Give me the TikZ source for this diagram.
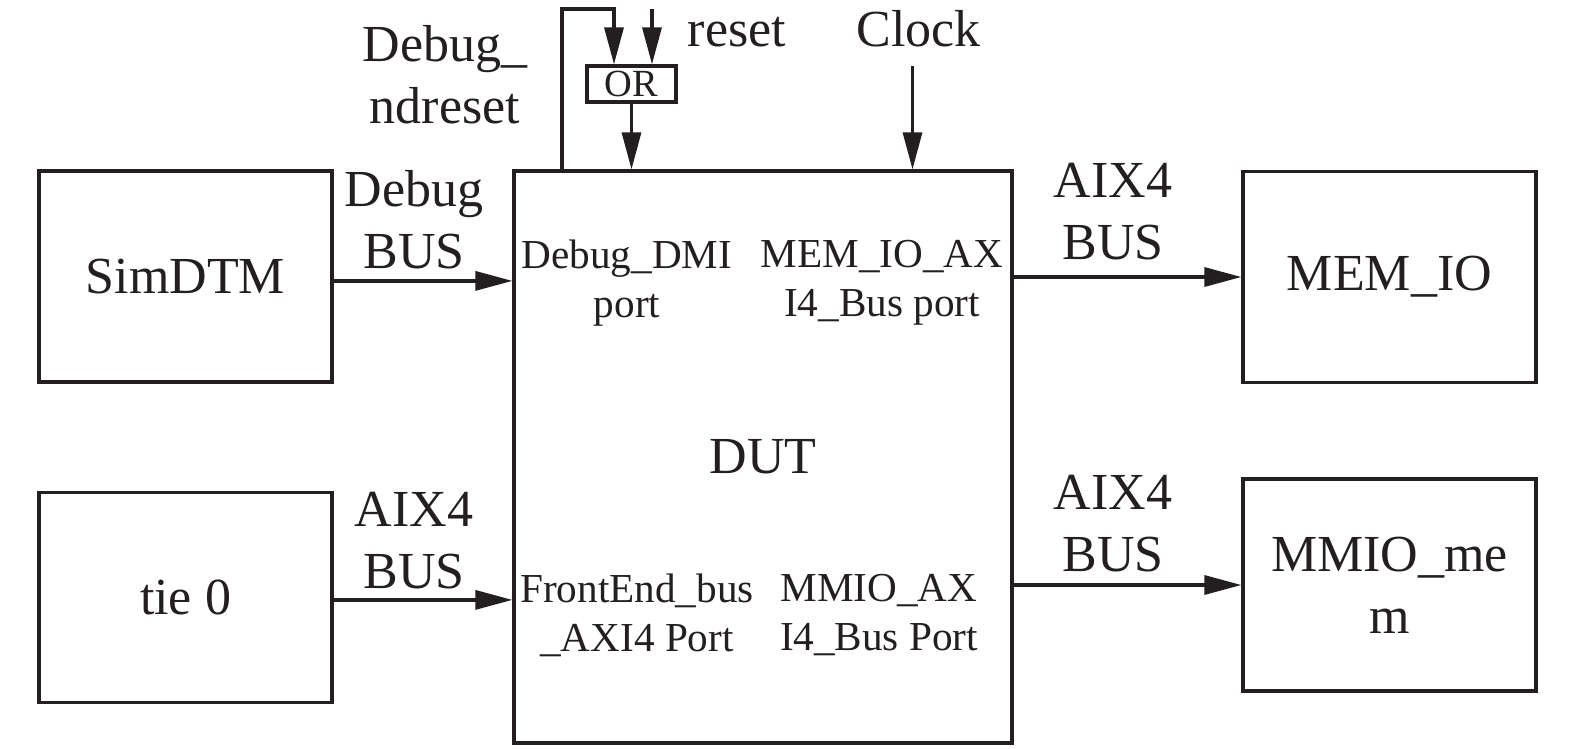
\documentclass[tikz,border=0pt]{standalone}
\usepackage{fontspec}
\setmainfont{Liberation Serif}
\usetikzlibrary{arrows.meta, positioning, calc}
\definecolor{tinta}{RGB}{35,31,32}

\begin{document}
\begin{tikzpicture}[x=0.25pt, y=-0.25pt, >={Triangle[length=9.25pt, width=4.75pt]},
      line width=0.8pt, draw=tinta,
      every node/.style={text=tinta, font=\fontsize{13}{15.5}\selectfont},
      blk/.style={draw=tinta, line width=0.8pt, inner sep=0pt, align=center},
      lbl/.style={inner sep=0pt, align=center},
      port/.style={lbl, font=\fontsize{10.3}{12.25}\selectfont}]

    \useasboundingbox (0,0) rectangle (1575,749);

    \node[blk, minimum width=73.25pt, minimum height=52.75pt] (SimDTM) at (185.5,276.5) {SimDTM};
    \node[blk, minimum width=73.25pt, minimum height=52.5pt] (tie0) at (185.5,597.5) {tie 0};
    \node[blk, minimum width=124.5pt, minimum height=143pt] (DUT) at (763,457) {DUT};
    \node[blk, minimum width=73.25pt, minimum height=52.75pt] (MEMIO) at (1389.5,277) {MEM\_IO};
    \node[blk, minimum width=73.25pt, minimum height=53pt] (MMIO) at (1389.5,585) {MMIO\_me\\m};
    \node[blk, minimum width=22.25pt, minimum height=9pt,
          font=\fontsize{9.6}{11}\selectfont] (OR) at (631.5,84) {OR};

    \node[port] (dbgport) at (627,283) {Debug\_DMI\\port};
    \node[port] (memport) at (882,283) {MEM\_IO\_AX\\I4\_Bus port};
    \node[port] (feport) at (637,615) {FrontEnd\_bus\\\_AXI4 Port};
    \node[port] (mmioport) at (879,615) {MMIO\_AX\\I4\_Bus Port};

    \node[lbl] (dbgbus) at (414,220) {Debug\\BUS};
    \node[lbl] (febus) at (414,541) {AIX4\\BUS};
    \node[lbl] (membus) at (1113,212) {AIX4\\BUS};
    \node[lbl] (mmiobus) at (1113,524) {AIX4\\BUS};
    \node[lbl] (ndrst) at (445,75) {Debug\_\\ndreset};
    \node[lbl, anchor=base] (rstlbl) at (737,47) {reset};
    \node[lbl, anchor=base] (clklbl) at (918.5,47) {Clock};

    \coordinate (fbtop) at (562,9);
    \coordinate (rsttop) at (652,9);
    \coordinate (clktop) at (912.5,66);

    \draw[->] ([yshift=-1.1pt]SimDTM.east) -- ([yshift=-1.1pt]SimDTM.east -| DUT.west);
    \draw[->] ([yshift=-0.6pt]tie0.east) -- ([yshift=-0.6pt]tie0.east -| DUT.west);
    \draw[->] (DUT.east |- MEMIO.west) -- (MEMIO.west);
    \draw[->] (DUT.east |- MMIO.west) -- (MMIO.west);
    \draw[->] (OR.south) -- (OR.south |- DUT.north);
    \draw[->] (fbtop |- DUT.north) -- (fbtop) -| ($(OR.north)+(-17.5,0)$);
    \draw[->] (rsttop) -- (rsttop |- OR.north);
    \draw[->] (clktop) -- (clktop |- DUT.north);
  \end{tikzpicture}
\end{document}
